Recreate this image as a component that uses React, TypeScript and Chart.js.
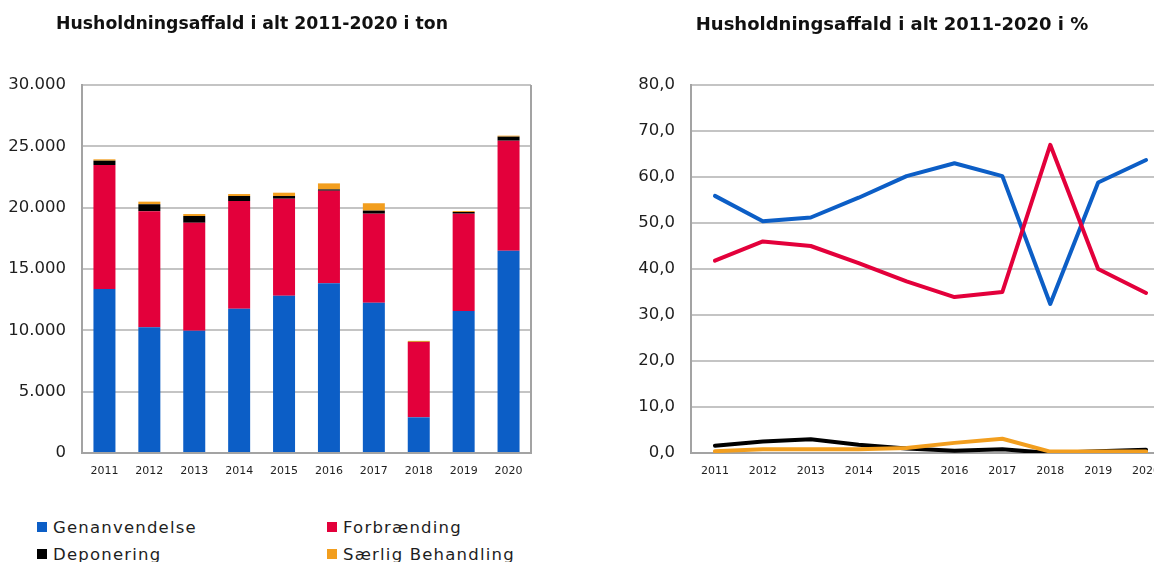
import React, { useEffect, useRef } from "react";
import { Chart, registerables } from "chart.js";

Chart.register(...registerables);

const years = ["2011", "2012", "2013", "2014", "2015", "2016", "2017", "2018", "2019", "2020"];

const genanvendelseTon = [13370, 10250, 9970, 11760, 12820, 13830, 12250, 2910, 11580, 16490];
const forbraendingTon = [10110, 9460, 8800, 8780, 7910, 7550, 7260, 6140, 7930, 8970];
const deponeringTon = [350, 570, 550, 410, 220, 110, 250, 10, 140, 330];
const saerligTon = [110, 210, 160, 160, 270, 490, 600, 80, 80, 80];

const genanvendelsePct = [55.9, 50.4, 51.2, 55.5, 60.2, 63.0, 60.2, 32.4, 58.8, 63.7];
const forbraendingPct = [41.8, 46.0, 45.0, 41.3, 37.3, 33.9, 35.0, 67.0, 40.0, 34.8];
const deponeringPct = [1.6, 2.5, 3.0, 1.8, 1.0, 0.5, 0.8, 0.0, 0.4, 0.7];
const saerligPct = [0.4, 0.8, 0.8, 0.8, 1.1, 2.2, 3.1, 0.3, 0.3, 0.3];

const seriesNames = ["Genanvendelse", "Forbrænding", "Deponering", "Særlig Behandling"];
const BLUE = "#0c5ec6";
const RED = "#e3003b";
const BLACK = "#000000";
const ORANGE = "#f29e1e";
const colors = [BLUE, RED, BLACK, ORANGE];

const titleTon = "Husholdningsaffald i alt 2011-2020 i ton";
const titlePct = "Husholdningsaffald i alt 2011-2020 i %";

const GRID = "#c4c4c4";
const AXIS = "#a3a3a3";
const TEXT = "#1e1e1e";
const FONT = "'DejaVu Sans', Verdana, sans-serif";

function fmtThousands(v: number): string {
  if (v === 0) return "0";
  const s = Math.round(v).toString();
  return s.replace(/\B(?=(\d{3})+(?!\d))/g, ".");
}
function fmtPct(v: number): string {
  return v.toFixed(1).replace(".", ",");
}

const boxPlugin = {
  id: "plotBox",
  beforeDatasetsDraw(chart: any, _a: any, opts: any) {
    if (!opts || !opts.enabled) return;
    const { ctx, chartArea } = chart;
    ctx.save();
    ctx.strokeStyle = AXIS;
    ctx.lineWidth = 2;
    ctx.beginPath();
    ctx.moveTo(chartArea.right, chartArea.top);
    ctx.lineTo(chartArea.right, chartArea.bottom);
    ctx.stroke();
    ctx.restore();
  },
};

function BarChart() {
  const ref = useRef<HTMLCanvasElement | null>(null);
  useEffect(() => {
    if (!ref.current) return;
    const data = [genanvendelseTon, forbraendingTon, deponeringTon, saerligTon];
    const chart = new Chart(ref.current, {
      type: "bar",
      data: {
        labels: years,
        datasets: data.map((d, i) => ({
          label: seriesNames[i],
          data: d,
          backgroundColor: colors[i],
          borderWidth: 0,
          barPercentage: 0.49,
          categoryPercentage: 1,
        })),
      },
      options: {
        animation: false,
        responsive: false,
        layout: { padding: { top: 85, right: 29, left: 0, bottom: 0 } },
        plugins: {
          legend: { display: false },
          tooltip: { enabled: false },
          title: { display: false },
          plotBox: { enabled: true },
        } as any,
        scales: {
          x: {
            stacked: true,
            grid: { display: false, drawTicks: false },
            border: { display: true, color: AXIS, width: 2 },
            ticks: { font: { family: FONT, size: 11 }, color: TEXT, padding: 12, maxRotation: 0 },
            afterFit: (s: any) => { s.height = 37; },
          },
          y: {
            stacked: true,
            min: 0,
            max: 30000,
            grid: { color: GRID, lineWidth: 2, drawTicks: false },
            border: { display: true, color: AXIS, width: 2 },
            ticks: {
              stepSize: 5000,
              font: { family: FONT, size: 16.5 },
              color: TEXT,
              padding: 16,
              callback: (v: any) => fmtThousands(Number(v)),
            },
            afterFit: (s: any) => { s.width = 82; },
          },
        },
      },
      plugins: [boxPlugin],
    } as any);
    return () => chart.destroy();
  }, []);
  return (
    <canvas
      ref={ref}
      width={560}
      height={490}
      style={{ position: "absolute", left: 0, top: 0, width: 560, height: 490 }}
    />
  );
}

function LineChart() {
  const ref = useRef<HTMLCanvasElement | null>(null);
  useEffect(() => {
    if (!ref.current) return;
    const data = [genanvendelsePct, forbraendingPct, deponeringPct, saerligPct];
    const orders = [4, 3, 2, 1];
    const chart = new Chart(ref.current, {
      type: "line",
      data: {
        labels: years,
        datasets: data.map((d, i) => ({
          label: seriesNames[i],
          data: d,
          borderColor: colors[i],
          backgroundColor: colors[i],
          borderWidth: 4,
          pointRadius: 0,
          tension: 0,
          fill: false,
          borderJoinStyle: "round",
          borderCapStyle: "round",
          order: orders[i],
        })),
      },
      options: {
        animation: false,
        responsive: false,
        layout: { padding: { top: 85, right: 10, left: 0, bottom: 0 } },
        plugins: {
          legend: { display: false },
          tooltip: { enabled: false },
          title: { display: false },
        },
        scales: {
          x: {
            offset: true,
            grid: { display: false, drawTicks: false },
            border: { display: true, color: AXIS, width: 2 },
            ticks: { font: { family: FONT, size: 11 }, color: TEXT, padding: 12, maxRotation: 0 },
            afterFit: (s: any) => { s.height = 37; },
          },
          y: {
            min: 0,
            max: 80,
            grid: { color: GRID, lineWidth: 2, drawTicks: false },
            border: { display: true, color: AXIS, width: 2 },
            ticks: {
              stepSize: 10,
              font: { family: FONT, size: 16.5 },
              color: TEXT,
              padding: 16,
              callback: (v: any) => fmtPct(Number(v)),
            },
            afterFit: (s: any) => { s.width = 91; },
          },
        },
      },
    } as any);
    return () => chart.destroy();
  }, []);
  return (
    <canvas
      ref={ref}
      width={580}
      height={490}
      style={{ position: "absolute", left: 600, top: 0, width: 580, height: 490 }}
    />
  );
}

function LegendItem({ x, y, color, text }: { x: number; y: number; color: string; text: string }) {
  return (
    <>
      <div style={{ position: "absolute", left: x, top: y + 2, width: 10, height: 10, background: color }} />
      <div
        style={{
          position: "absolute",
          left: x + 16,
          top: y,
          fontFamily: FONT,
          fontSize: 16.5,
          lineHeight: "16px",
          letterSpacing: "1.2px",
          color: TEXT,
          whiteSpace: "nowrap",
        }}
      >
        {text}
      </div>
    </>
  );
}

export default function App() {
  return (
    <div
      style={{
        position: "absolute",
        left: 0,
        top: 0,
        width: 1154,
        height: 562,
        overflow: "hidden",
        background: "#ffffff",
      }}
    >
      <BarChart />
      <LineChart />
      <div
        style={{
          position: "absolute",
          left: 52,
          width: 400,
          top: 15,
          textAlign: "center",
          fontFamily: FONT,
          fontWeight: "bold",
          fontSize: 17.3,
          lineHeight: "17px",
          color: "#111",
          whiteSpace: "nowrap",
        }}
      >
        {titleTon}
      </div>
      <div
        style={{
          position: "absolute",
          left: 692,
          width: 400,
          top: 15,
          textAlign: "center",
          fontFamily: FONT,
          fontWeight: "bold",
          fontSize: 18,
          lineHeight: "17px",
          color: "#111",
          whiteSpace: "nowrap",
        }}
      >
        {titlePct}
      </div>
      <LegendItem x={37} y={520} color={colors[0]} text={seriesNames[0]} />
      <LegendItem x={327} y={520} color={colors[1]} text={seriesNames[1]} />
      <LegendItem x={37} y={547} color={colors[2]} text={seriesNames[2]} />
      <LegendItem x={327} y={547} color={colors[3]} text={seriesNames[3]} />
    </div>
  );
}
